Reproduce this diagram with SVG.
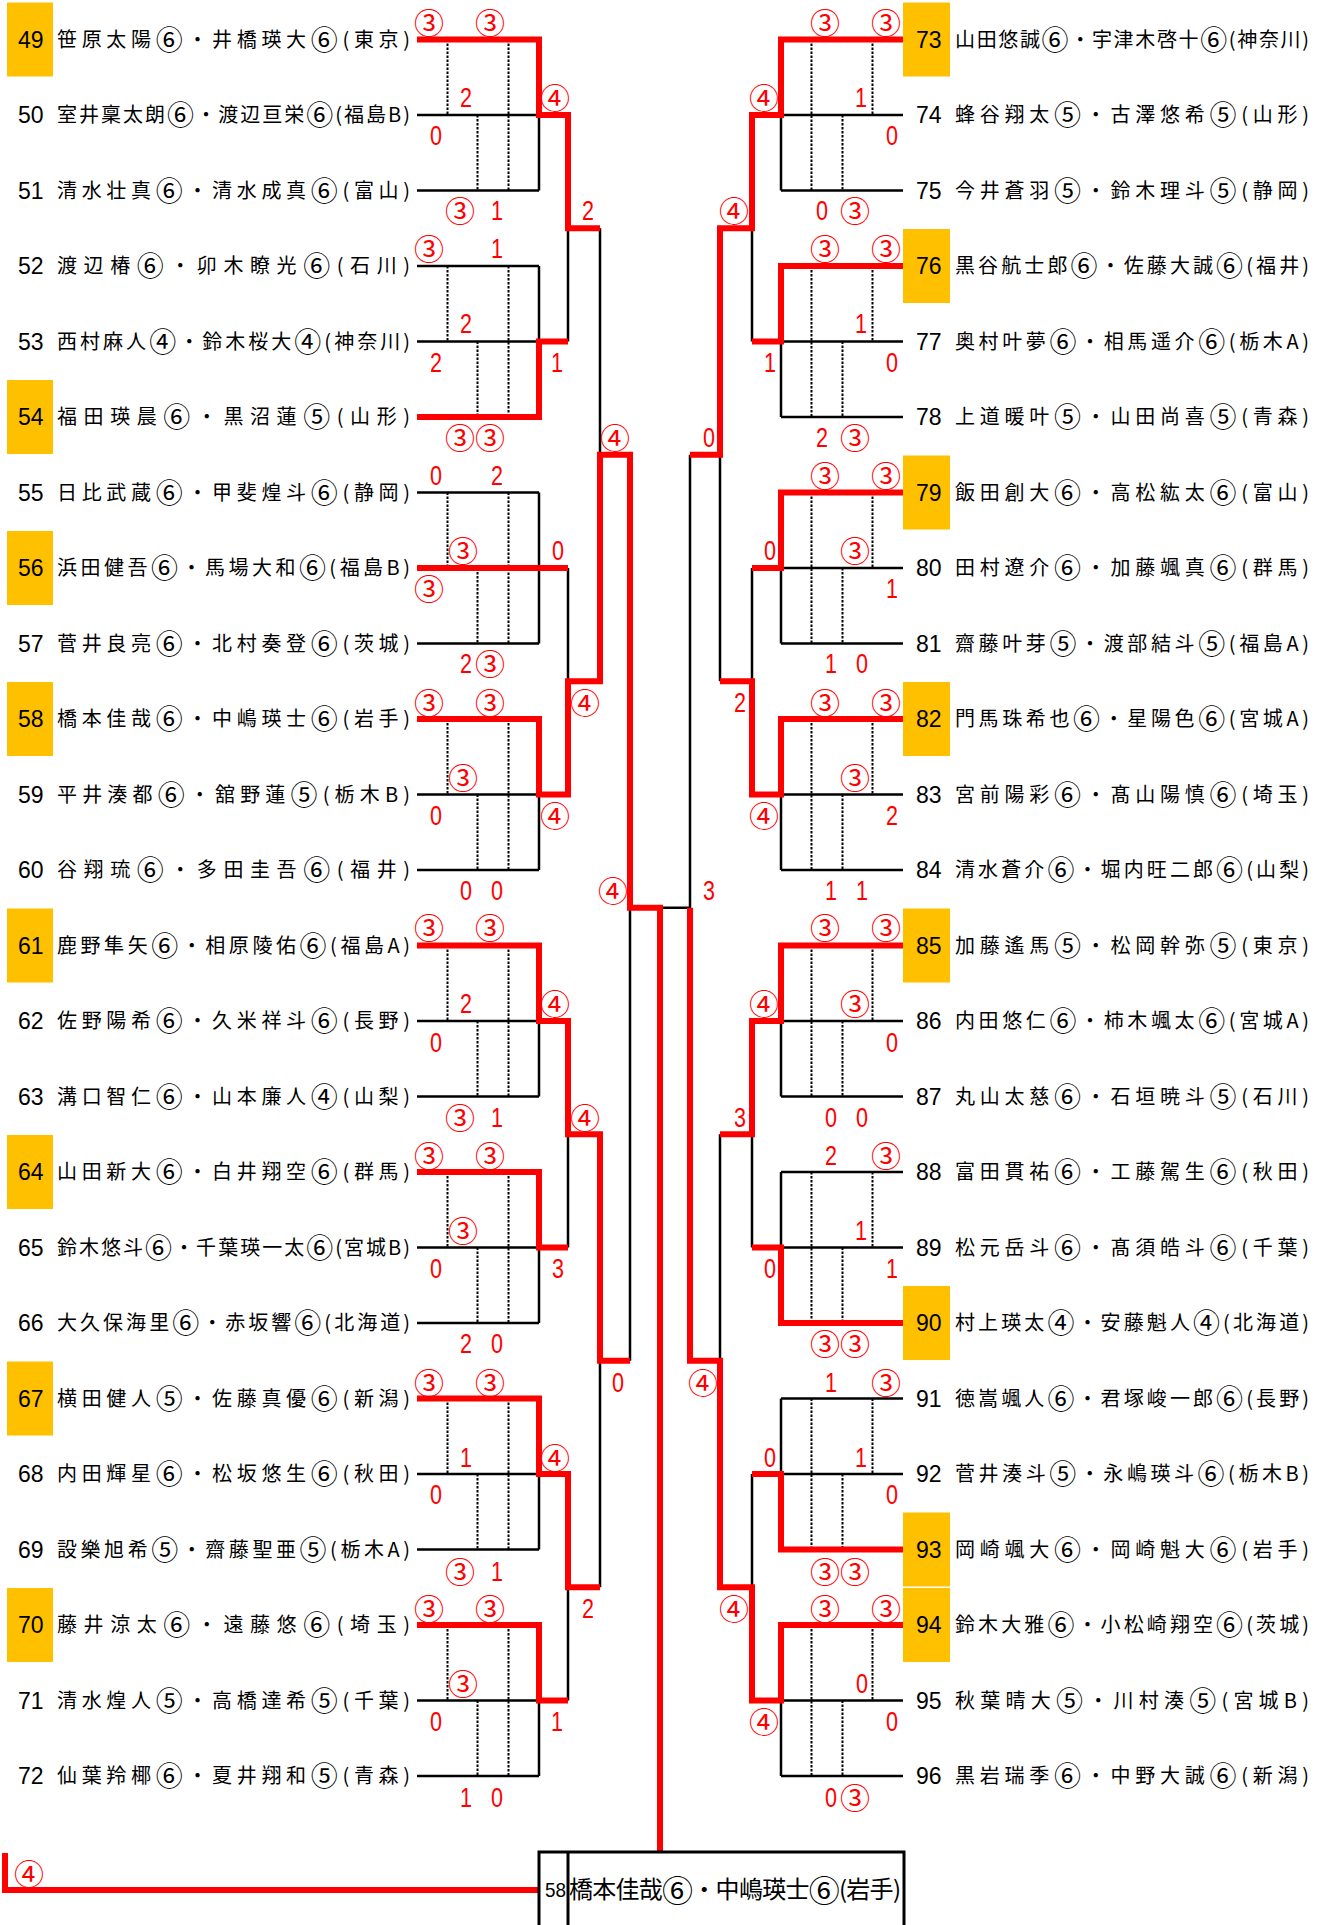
<svg xmlns="http://www.w3.org/2000/svg" width="1325" height="1925" viewBox="0 0 1325 1925">
<style>
.bk{fill:none;stroke:#000;stroke-width:2.5}
.dt{fill:none;stroke:#000;stroke-width:2;stroke-dasharray:2.5 1.5}
.rd{fill:none;stroke:#f00;stroke-width:6;stroke-linejoin:miter;stroke-linecap:butt}
.nm{font-family:'Noto Sans CJK JP',sans-serif;font-size:20px;fill:#000}
.c{font-size:27px;baseline-shift:-3px}
.no{font-family:'Liberation Sans',sans-serif;font-size:23px;fill:#000}
.sc{font-family:'Liberation Sans',sans-serif;font-size:27px;fill:#f00;text-anchor:middle}
.ci{font-family:'Noto Sans CJK JP',sans-serif;font-size:30px;fill:#f00;text-anchor:middle}
.yb{fill:#FFC000}
</style>
<rect width="1325" height="1925" fill="#fff"/>

<g id="connectors">
<path class="bk" d="M417,39.5H539M417,115H539M417,190.5H539M417,266H539M417,341.5H539M417,417H539M417,492.5H539M417,568H539M417,643.5H539M417,719H539M417,794.5H539M417,870H539M417,945.5H539M417,1021H539M417,1096.5H539M417,1172H539M417,1247.5H539M417,1323H539M417,1398.5H539M417,1474H539M417,1549.5H539M417,1625H539M417,1700.5H539M417,1776H539"/>
<path class="bk" d="M539,39.5V190.5M539,266V417M539,492.5V643.5M539,719V870M539,945.5V1096.5M539,1172V1323M539,1398.5V1549.5M539,1625V1776M568,115V341.5M568,568V794.5M568,1021V1247.5M568,1474V1700.5M600,228.25V681.25M600,1134.25V1587.25M630,454.75V1360.75M630,907.75H690"/>
<path class="bk" d="M781,39.5H903M781,115H903M781,190.5H903M781,266H903M781,341.5H903M781,417H903M781,492.5H903M781,568H903M781,643.5H903M781,719H903M781,794.5H903M781,870H903M781,945.5H903M781,1021H903M781,1096.5H903M781,1172H903M781,1247.5H903M781,1323H903M781,1398.5H903M781,1474H903M781,1549.5H903M781,1625H903M781,1700.5H903M781,1776H903"/>
<path class="bk" d="M781,39.5V190.5M781,266V417M781,492.5V643.5M781,719V870M781,945.5V1096.5M781,1172V1323M781,1398.5V1549.5M781,1625V1776M752,115V341.5M752,568V794.5M752,1021V1247.5M752,1474V1700.5M720,228.25V681.25M720,1134.25V1587.25M690,454.75V1360.75"/>
<path class="dt" d="M447.5,39.5V115M477.5,115V190.5M508.5,39.5V190.5M447.5,266V341.5M477.5,341.5V417M508.5,266V417M447.5,492.5V568M477.5,568V643.5M508.5,492.5V643.5M447.5,719V794.5M477.5,794.5V870M508.5,719V870M447.5,945.5V1021M477.5,1021V1096.5M508.5,945.5V1096.5M447.5,1172V1247.5M477.5,1247.5V1323M508.5,1172V1323M447.5,1398.5V1474M477.5,1474V1549.5M508.5,1398.5V1549.5M447.5,1625V1700.5M477.5,1700.5V1776M508.5,1625V1776"/>
<path class="dt" d="M872.5,39.5V115M842.5,115V190.5M811.5,39.5V190.5M872.5,266V341.5M842.5,341.5V417M811.5,266V417M872.5,492.5V568M842.5,568V643.5M811.5,492.5V643.5M872.5,719V794.5M842.5,794.5V870M811.5,719V870M872.5,945.5V1021M842.5,1021V1096.5M811.5,945.5V1096.5M872.5,1172V1247.5M842.5,1247.5V1323M811.5,1172V1323M872.5,1398.5V1474M842.5,1474V1549.5M811.5,1398.5V1549.5M872.5,1625V1700.5M842.5,1700.5V1776M811.5,1625V1776"/>
<path class="rd" d="M417,39.5H539V115H568V228.25H600"/>
<path class="rd" d="M417,417H539V341.5H568"/>
<path class="rd" d="M417,568H568"/>
<path class="rd" d="M417,719H539V794.5H568V681.25H600V454.75H630V907.75H660V1852"/>
<path class="rd" d="M417,945.5H539V1021H568V1134.25H600V1360.75H630"/>
<path class="rd" d="M417,1172H539V1247.5H568"/>
<path class="rd" d="M417,1398.5H539V1474H568V1587.25H600"/>
<path class="rd" d="M417,1625H539V1700.5H568"/>
<path class="rd" d="M539,1890H5V1853"/>
<path class="rd" d="M903,39.5H781V115H752V228.25H720V454.75H690"/>
<path class="rd" d="M903,266H781V341.5H752"/>
<path class="rd" d="M903,492.5H781V568H752"/>
<path class="rd" d="M903,719H781V794.5H752V681.25H720"/>
<path class="rd" d="M903,945.5H781V1021H752V1134.25H720"/>
<path class="rd" d="M903,1323H781V1247.5H752"/>
<path class="rd" d="M903,1549.5H781V1474H752"/>
<path class="rd" d="M903,1625H781V1700.5H752V1587.25H720V1360.75H690V907.75"/>
</g>

<g id="n49" transform="translate(0,39.5)"><rect class="yb" x="7" y="-37" width="46" height="74"/><text class="no" x="18" y="8">49</text><text class="nm" x="57" y="7" textLength="353" lengthAdjust="spacing">笹原太陽<tspan class="c">⑥</tspan>・井橋瑛大<tspan class="c">⑥</tspan>(東京)</text></g>
<g id="n50" transform="translate(0,115)"><text class="no" x="18" y="8">50</text><text class="nm" x="57" y="7" textLength="353" lengthAdjust="spacing">室井稟太朗<tspan class="c">⑥</tspan>・渡辺亘栄<tspan class="c">⑥</tspan>(福島B)</text></g>
<g id="n51" transform="translate(0,190.5)"><text class="no" x="18" y="8">51</text><text class="nm" x="57" y="7" textLength="353" lengthAdjust="spacing">清水壮真<tspan class="c">⑥</tspan>・清水成真<tspan class="c">⑥</tspan>(富山)</text></g>
<g id="n52" transform="translate(0,266)"><text class="no" x="18" y="8">52</text><text class="nm" x="57" y="7" textLength="353" lengthAdjust="spacing">渡辺椿<tspan class="c">⑥</tspan>・卯木瞭光<tspan class="c">⑥</tspan>(石川)</text></g>
<g id="n53" transform="translate(0,341.5)"><text class="no" x="18" y="8">53</text><text class="nm" x="57" y="7" textLength="353" lengthAdjust="spacing">西村麻人<tspan class="c">④</tspan>・鈴木桜大<tspan class="c">④</tspan>(神奈川)</text></g>
<g id="n54" transform="translate(0,417)"><rect class="yb" x="7" y="-37" width="46" height="74"/><text class="no" x="18" y="8">54</text><text class="nm" x="57" y="7" textLength="353" lengthAdjust="spacing">福田瑛晨<tspan class="c">⑥</tspan>・黒沼蓮<tspan class="c">⑤</tspan>(山形)</text></g>
<g id="n55" transform="translate(0,492.5)"><text class="no" x="18" y="8">55</text><text class="nm" x="57" y="7" textLength="353" lengthAdjust="spacing">日比武蔵<tspan class="c">⑥</tspan>・甲斐煌斗<tspan class="c">⑥</tspan>(静岡)</text></g>
<g id="n56" transform="translate(0,568)"><rect class="yb" x="7" y="-37" width="46" height="74"/><text class="no" x="18" y="8">56</text><text class="nm" x="57" y="7" textLength="353" lengthAdjust="spacing">浜田健吾<tspan class="c">⑥</tspan>・馬場大和<tspan class="c">⑥</tspan>(福島B)</text></g>
<g id="n57" transform="translate(0,643.5)"><text class="no" x="18" y="8">57</text><text class="nm" x="57" y="7" textLength="353" lengthAdjust="spacing">菅井良亮<tspan class="c">⑥</tspan>・北村奏登<tspan class="c">⑥</tspan>(茨城)</text></g>
<g id="n58" transform="translate(0,719)"><rect class="yb" x="7" y="-37" width="46" height="74"/><text class="no" x="18" y="8">58</text><text class="nm" x="57" y="7" textLength="353" lengthAdjust="spacing">橋本佳哉<tspan class="c">⑥</tspan>・中嶋瑛士<tspan class="c">⑥</tspan>(岩手)</text></g>
<g id="n59" transform="translate(0,794.5)"><text class="no" x="18" y="8">59</text><text class="nm" x="57" y="7" textLength="353" lengthAdjust="spacing">平井湊都<tspan class="c">⑥</tspan>・舘野蓮<tspan class="c">⑤</tspan>(栃木B)</text></g>
<g id="n60" transform="translate(0,870)"><text class="no" x="18" y="8">60</text><text class="nm" x="57" y="7" textLength="353" lengthAdjust="spacing">谷翔琉<tspan class="c">⑥</tspan>・多田圭吾<tspan class="c">⑥</tspan>(福井)</text></g>
<g id="n61" transform="translate(0,945.5)"><rect class="yb" x="7" y="-37" width="46" height="74"/><text class="no" x="18" y="8">61</text><text class="nm" x="57" y="7" textLength="353" lengthAdjust="spacing">鹿野隼矢<tspan class="c">⑥</tspan>・相原陵佑<tspan class="c">⑥</tspan>(福島A)</text></g>
<g id="n62" transform="translate(0,1021)"><text class="no" x="18" y="8">62</text><text class="nm" x="57" y="7" textLength="353" lengthAdjust="spacing">佐野陽希<tspan class="c">⑥</tspan>・久米祥斗<tspan class="c">⑥</tspan>(長野)</text></g>
<g id="n63" transform="translate(0,1096.5)"><text class="no" x="18" y="8">63</text><text class="nm" x="57" y="7" textLength="353" lengthAdjust="spacing">溝口智仁<tspan class="c">⑥</tspan>・山本廉人<tspan class="c">④</tspan>(山梨)</text></g>
<g id="n64" transform="translate(0,1172)"><rect class="yb" x="7" y="-37" width="46" height="74"/><text class="no" x="18" y="8">64</text><text class="nm" x="57" y="7" textLength="353" lengthAdjust="spacing">山田新大<tspan class="c">⑥</tspan>・白井翔空<tspan class="c">⑥</tspan>(群馬)</text></g>
<g id="n65" transform="translate(0,1247.5)"><text class="no" x="18" y="8">65</text><text class="nm" x="57" y="7" textLength="353" lengthAdjust="spacing">鈴木悠斗<tspan class="c">⑥</tspan>・千葉瑛一太<tspan class="c">⑥</tspan>(宮城B)</text></g>
<g id="n66" transform="translate(0,1323)"><text class="no" x="18" y="8">66</text><text class="nm" x="57" y="7" textLength="353" lengthAdjust="spacing">大久保海里<tspan class="c">⑥</tspan>・赤坂響<tspan class="c">⑥</tspan>(北海道)</text></g>
<g id="n67" transform="translate(0,1398.5)"><rect class="yb" x="7" y="-37" width="46" height="74"/><text class="no" x="18" y="8">67</text><text class="nm" x="57" y="7" textLength="353" lengthAdjust="spacing">横田健人<tspan class="c">⑤</tspan>・佐藤真優<tspan class="c">⑥</tspan>(新潟)</text></g>
<g id="n68" transform="translate(0,1474)"><text class="no" x="18" y="8">68</text><text class="nm" x="57" y="7" textLength="353" lengthAdjust="spacing">内田輝星<tspan class="c">⑥</tspan>・松坂悠生<tspan class="c">⑥</tspan>(秋田)</text></g>
<g id="n69" transform="translate(0,1549.5)"><text class="no" x="18" y="8">69</text><text class="nm" x="57" y="7" textLength="353" lengthAdjust="spacing">設樂旭希<tspan class="c">⑤</tspan>・齋藤聖亜<tspan class="c">⑤</tspan>(栃木A)</text></g>
<g id="n70" transform="translate(0,1625)"><rect class="yb" x="7" y="-37" width="46" height="74"/><text class="no" x="18" y="8">70</text><text class="nm" x="57" y="7" textLength="353" lengthAdjust="spacing">藤井涼太<tspan class="c">⑥</tspan>・遠藤悠<tspan class="c">⑥</tspan>(埼玉)</text></g>
<g id="n71" transform="translate(0,1700.5)"><text class="no" x="18" y="8">71</text><text class="nm" x="57" y="7" textLength="353" lengthAdjust="spacing">清水煌人<tspan class="c">⑤</tspan>・高橋達希<tspan class="c">⑤</tspan>(千葉)</text></g>
<g id="n72" transform="translate(0,1776)"><text class="no" x="18" y="8">72</text><text class="nm" x="57" y="7" textLength="353" lengthAdjust="spacing">仙葉羚椰<tspan class="c">⑥</tspan>・夏井翔和<tspan class="c">⑤</tspan>(青森)</text></g>

<g id="n73" transform="translate(0,39.5)"><rect class="yb" x="903" y="-37" width="47" height="74"/><text class="no" x="916" y="8">73</text><text class="nm" x="955" y="7" textLength="354" lengthAdjust="spacing">山田悠誠<tspan class="c">⑥</tspan>・宇津木啓十<tspan class="c">⑥</tspan>(神奈川)</text></g>
<g id="n74" transform="translate(0,115)"><text class="no" x="916" y="8">74</text><text class="nm" x="955" y="7" textLength="354" lengthAdjust="spacing">蜂谷翔太<tspan class="c">⑤</tspan>・古澤悠希<tspan class="c">⑤</tspan>(山形)</text></g>
<g id="n75" transform="translate(0,190.5)"><text class="no" x="916" y="8">75</text><text class="nm" x="955" y="7" textLength="354" lengthAdjust="spacing">今井蒼羽<tspan class="c">⑤</tspan>・鈴木理斗<tspan class="c">⑤</tspan>(静岡)</text></g>
<g id="n76" transform="translate(0,266)"><rect class="yb" x="903" y="-37" width="47" height="74"/><text class="no" x="916" y="8">76</text><text class="nm" x="955" y="7" textLength="354" lengthAdjust="spacing">黒谷航士郎<tspan class="c">⑥</tspan>・佐藤大誠<tspan class="c">⑥</tspan>(福井)</text></g>
<g id="n77" transform="translate(0,341.5)"><text class="no" x="916" y="8">77</text><text class="nm" x="955" y="7" textLength="354" lengthAdjust="spacing">奥村叶夢<tspan class="c">⑥</tspan>・相馬遥介<tspan class="c">⑥</tspan>(栃木A)</text></g>
<g id="n78" transform="translate(0,417)"><text class="no" x="916" y="8">78</text><text class="nm" x="955" y="7" textLength="354" lengthAdjust="spacing">上道暖叶<tspan class="c">⑤</tspan>・山田尚喜<tspan class="c">⑤</tspan>(青森)</text></g>
<g id="n79" transform="translate(0,492.5)"><rect class="yb" x="903" y="-37" width="47" height="74"/><text class="no" x="916" y="8">79</text><text class="nm" x="955" y="7" textLength="354" lengthAdjust="spacing">飯田創大<tspan class="c">⑥</tspan>・高松紘太<tspan class="c">⑥</tspan>(富山)</text></g>
<g id="n80" transform="translate(0,568)"><text class="no" x="916" y="8">80</text><text class="nm" x="955" y="7" textLength="354" lengthAdjust="spacing">田村遼介<tspan class="c">⑥</tspan>・加藤颯真<tspan class="c">⑥</tspan>(群馬)</text></g>
<g id="n81" transform="translate(0,643.5)"><text class="no" x="916" y="8">81</text><text class="nm" x="955" y="7" textLength="354" lengthAdjust="spacing">齋藤叶芽<tspan class="c">⑤</tspan>・渡部結斗<tspan class="c">⑤</tspan>(福島A)</text></g>
<g id="n82" transform="translate(0,719)"><rect class="yb" x="903" y="-37" width="47" height="74"/><text class="no" x="916" y="8">82</text><text class="nm" x="955" y="7" textLength="354" lengthAdjust="spacing">門馬珠希也<tspan class="c">⑥</tspan>・星陽色<tspan class="c">⑥</tspan>(宮城A)</text></g>
<g id="n83" transform="translate(0,794.5)"><text class="no" x="916" y="8">83</text><text class="nm" x="955" y="7" textLength="354" lengthAdjust="spacing">宮前陽彩<tspan class="c">⑥</tspan>・髙山陽慎<tspan class="c">⑥</tspan>(埼玉)</text></g>
<g id="n84" transform="translate(0,870)"><text class="no" x="916" y="8">84</text><text class="nm" x="955" y="7" textLength="354" lengthAdjust="spacing">清水蒼介<tspan class="c">⑥</tspan>・堀内旺二郎<tspan class="c">⑥</tspan>(山梨)</text></g>
<g id="n85" transform="translate(0,945.5)"><rect class="yb" x="903" y="-37" width="47" height="74"/><text class="no" x="916" y="8">85</text><text class="nm" x="955" y="7" textLength="354" lengthAdjust="spacing">加藤遙馬<tspan class="c">⑤</tspan>・松岡幹弥<tspan class="c">⑤</tspan>(東京)</text></g>
<g id="n86" transform="translate(0,1021)"><text class="no" x="916" y="8">86</text><text class="nm" x="955" y="7" textLength="354" lengthAdjust="spacing">内田悠仁<tspan class="c">⑥</tspan>・柿木颯太<tspan class="c">⑥</tspan>(宮城A)</text></g>
<g id="n87" transform="translate(0,1096.5)"><text class="no" x="916" y="8">87</text><text class="nm" x="955" y="7" textLength="354" lengthAdjust="spacing">丸山太慈<tspan class="c">⑥</tspan>・石垣暁斗<tspan class="c">⑤</tspan>(石川)</text></g>
<g id="n88" transform="translate(0,1172)"><text class="no" x="916" y="8">88</text><text class="nm" x="955" y="7" textLength="354" lengthAdjust="spacing">富田貫祐<tspan class="c">⑥</tspan>・工藤駕生<tspan class="c">⑥</tspan>(秋田)</text></g>
<g id="n89" transform="translate(0,1247.5)"><text class="no" x="916" y="8">89</text><text class="nm" x="955" y="7" textLength="354" lengthAdjust="spacing">松元岳斗<tspan class="c">⑥</tspan>・髙須皓斗<tspan class="c">⑥</tspan>(千葉)</text></g>
<g id="n90" transform="translate(0,1323)"><rect class="yb" x="903" y="-37" width="47" height="74"/><text class="no" x="916" y="8">90</text><text class="nm" x="955" y="7" textLength="354" lengthAdjust="spacing">村上瑛太<tspan class="c">④</tspan>・安藤魁人<tspan class="c">④</tspan>(北海道)</text></g>
<g id="n91" transform="translate(0,1398.5)"><text class="no" x="916" y="8">91</text><text class="nm" x="955" y="7" textLength="354" lengthAdjust="spacing">徳嵩颯人<tspan class="c">⑥</tspan>・君塚峻一郎<tspan class="c">⑥</tspan>(長野)</text></g>
<g id="n92" transform="translate(0,1474)"><text class="no" x="916" y="8">92</text><text class="nm" x="955" y="7" textLength="354" lengthAdjust="spacing">菅井湊斗<tspan class="c">⑤</tspan>・永嶋瑛斗<tspan class="c">⑥</tspan>(栃木B)</text></g>
<g id="n93" transform="translate(0,1549.5)"><rect class="yb" x="903" y="-37" width="47" height="74"/><text class="no" x="916" y="8">93</text><text class="nm" x="955" y="7" textLength="354" lengthAdjust="spacing">岡崎颯大<tspan class="c">⑥</tspan>・岡崎魁大<tspan class="c">⑥</tspan>(岩手)</text></g>
<g id="n94" transform="translate(0,1625)"><rect class="yb" x="903" y="-37" width="47" height="74"/><text class="no" x="916" y="8">94</text><text class="nm" x="955" y="7" textLength="354" lengthAdjust="spacing">鈴木大雅<tspan class="c">⑥</tspan>・小松崎翔空<tspan class="c">⑥</tspan>(茨城)</text></g>
<g id="n95" transform="translate(0,1700.5)"><text class="no" x="916" y="8">95</text><text class="nm" x="955" y="7" textLength="354" lengthAdjust="spacing">秋葉晴大<tspan class="c">⑤</tspan>・川村湊<tspan class="c">⑤</tspan>(宮城B)</text></g>
<g id="n96" transform="translate(0,1776)"><text class="no" x="916" y="8">96</text><text class="nm" x="955" y="7" textLength="354" lengthAdjust="spacing">黒岩瑞季<tspan class="c">⑥</tspan>・中野大誠<tspan class="c">⑥</tspan>(新潟)</text></g>

<g id="winner">
<rect x="539" y="1852" width="365" height="100" fill="#fff" stroke="#000" stroke-width="3"/>
<path d="M568,1852V1925" stroke="#000" stroke-width="3"/>
<text x="545" y="1897" font-family="'Liberation Sans',sans-serif" font-size="21" textLength="21" lengthAdjust="spacingAndGlyphs">58</text>
<text x="569" y="1898" font-family="'Noto Sans CJK JP',sans-serif" font-size="24" textLength="332" lengthAdjust="spacing">橋本佳哉<tspan font-size="31" style="baseline-shift:-3.5px">⑥</tspan>・中嶋瑛士<tspan font-size="31" style="baseline-shift:-3.5px">⑥</tspan>(岩手)</text>
</g>

<g id="scores">
<text class="ci" x="429" y="34">③</text><text class="ci" x="490" y="34">③</text><text class="sc" x="466" y="107" textLength="12" lengthAdjust="spacingAndGlyphs">2</text><text class="sc" x="436" y="145" textLength="12" lengthAdjust="spacingAndGlyphs">0</text><text class="ci" x="460" y="222">③</text><text class="sc" x="497" y="220" textLength="12" lengthAdjust="spacingAndGlyphs">1</text>
<text class="ci" x="429" y="260">③</text><text class="sc" x="497" y="258" textLength="12" lengthAdjust="spacingAndGlyphs">1</text><text class="sc" x="466" y="333" textLength="12" lengthAdjust="spacingAndGlyphs">2</text><text class="sc" x="436" y="372" textLength="12" lengthAdjust="spacingAndGlyphs">2</text><text class="ci" x="460" y="449">③</text><text class="ci" x="490" y="449">③</text>
<text class="sc" x="436" y="485" textLength="12" lengthAdjust="spacingAndGlyphs">0</text><text class="sc" x="497" y="485" textLength="12" lengthAdjust="spacingAndGlyphs">2</text><text class="ci" x="463" y="562">③</text><text class="ci" x="429" y="600">③</text><text class="sc" x="466" y="673" textLength="12" lengthAdjust="spacingAndGlyphs">2</text><text class="ci" x="490" y="675">③</text>
<text class="ci" x="429" y="714">③</text><text class="ci" x="490" y="714">③</text><text class="ci" x="463" y="789">③</text><text class="sc" x="436" y="825" textLength="12" lengthAdjust="spacingAndGlyphs">0</text><text class="sc" x="466" y="900" textLength="12" lengthAdjust="spacingAndGlyphs">0</text><text class="sc" x="497" y="900" textLength="12" lengthAdjust="spacingAndGlyphs">0</text>
<text class="ci" x="429" y="939">③</text><text class="ci" x="490" y="939">③</text><text class="sc" x="466" y="1013" textLength="12" lengthAdjust="spacingAndGlyphs">2</text><text class="sc" x="436" y="1052" textLength="12" lengthAdjust="spacingAndGlyphs">0</text><text class="ci" x="460" y="1129">③</text><text class="sc" x="497" y="1127" textLength="12" lengthAdjust="spacingAndGlyphs">1</text>
<text class="ci" x="429" y="1167">③</text><text class="ci" x="490" y="1167">③</text><text class="ci" x="463" y="1242">③</text><text class="sc" x="436" y="1278" textLength="12" lengthAdjust="spacingAndGlyphs">0</text><text class="sc" x="466" y="1353" textLength="12" lengthAdjust="spacingAndGlyphs">2</text><text class="sc" x="497" y="1353" textLength="12" lengthAdjust="spacingAndGlyphs">0</text>
<text class="ci" x="429" y="1394">③</text><text class="ci" x="490" y="1394">③</text><text class="sc" x="466" y="1467" textLength="12" lengthAdjust="spacingAndGlyphs">1</text><text class="sc" x="436" y="1504" textLength="12" lengthAdjust="spacingAndGlyphs">0</text><text class="ci" x="460" y="1583">③</text><text class="sc" x="497" y="1581" textLength="12" lengthAdjust="spacingAndGlyphs">1</text>
<text class="ci" x="429" y="1620">③</text><text class="ci" x="490" y="1620">③</text><text class="ci" x="463" y="1695">③</text><text class="sc" x="436" y="1731" textLength="12" lengthAdjust="spacingAndGlyphs">0</text><text class="sc" x="466" y="1807" textLength="12" lengthAdjust="spacingAndGlyphs">1</text><text class="sc" x="497" y="1807" textLength="12" lengthAdjust="spacingAndGlyphs">0</text>
<text class="ci" x="555" y="109">④</text><text class="sc" x="557" y="372" textLength="12" lengthAdjust="spacingAndGlyphs">1</text><text class="sc" x="558" y="560" textLength="12" lengthAdjust="spacingAndGlyphs">0</text><text class="ci" x="555" y="827">④</text><text class="ci" x="555" y="1015">④</text><text class="sc" x="558" y="1278" textLength="12" lengthAdjust="spacingAndGlyphs">3</text><text class="ci" x="555" y="1469">④</text><text class="sc" x="557" y="1731" textLength="12" lengthAdjust="spacingAndGlyphs">1</text>
<text class="sc" x="588" y="220" textLength="12" lengthAdjust="spacingAndGlyphs">2</text><text class="ci" x="585" y="714">④</text><text class="ci" x="585" y="1129">④</text><text class="sc" x="588" y="1618" textLength="12" lengthAdjust="spacingAndGlyphs">2</text>
<text class="ci" x="615" y="449">④</text><text class="sc" x="618" y="1392" textLength="12" lengthAdjust="spacingAndGlyphs">0</text>
<text class="ci" x="613" y="902">④</text><text class="sc" x="709" y="900" textLength="12" lengthAdjust="spacingAndGlyphs">3</text>
<text class="ci" x="29" y="1885">④</text>
<text class="ci" x="825" y="34">③</text><text class="ci" x="886" y="34">③</text><text class="sc" x="861" y="107" textLength="12" lengthAdjust="spacingAndGlyphs">1</text><text class="sc" x="892" y="145" textLength="12" lengthAdjust="spacingAndGlyphs">0</text><text class="sc" x="822" y="220" textLength="12" lengthAdjust="spacingAndGlyphs">0</text><text class="ci" x="855" y="222">③</text>
<text class="ci" x="825" y="260">③</text><text class="ci" x="886" y="260">③</text><text class="sc" x="861" y="333" textLength="12" lengthAdjust="spacingAndGlyphs">1</text><text class="sc" x="892" y="372" textLength="12" lengthAdjust="spacingAndGlyphs">0</text><text class="sc" x="822" y="447" textLength="12" lengthAdjust="spacingAndGlyphs">2</text><text class="ci" x="855" y="449">③</text>
<text class="ci" x="825" y="487">③</text><text class="ci" x="886" y="487">③</text><text class="ci" x="855" y="562">③</text><text class="sc" x="892" y="598" textLength="12" lengthAdjust="spacingAndGlyphs">1</text><text class="sc" x="831" y="673" textLength="12" lengthAdjust="spacingAndGlyphs">1</text><text class="sc" x="862" y="673" textLength="12" lengthAdjust="spacingAndGlyphs">0</text>
<text class="ci" x="825" y="714">③</text><text class="ci" x="886" y="714">③</text><text class="ci" x="855" y="789">③</text><text class="sc" x="892" y="825" textLength="12" lengthAdjust="spacingAndGlyphs">2</text><text class="sc" x="831" y="900" textLength="12" lengthAdjust="spacingAndGlyphs">1</text><text class="sc" x="862" y="900" textLength="12" lengthAdjust="spacingAndGlyphs">1</text>
<text class="ci" x="825" y="939">③</text><text class="ci" x="886" y="939">③</text><text class="ci" x="855" y="1015">③</text><text class="sc" x="892" y="1052" textLength="12" lengthAdjust="spacingAndGlyphs">0</text><text class="sc" x="831" y="1127" textLength="12" lengthAdjust="spacingAndGlyphs">0</text><text class="sc" x="862" y="1127" textLength="12" lengthAdjust="spacingAndGlyphs">0</text>
<text class="sc" x="831" y="1165" textLength="12" lengthAdjust="spacingAndGlyphs">2</text><text class="ci" x="886" y="1167">③</text><text class="sc" x="861" y="1240" textLength="12" lengthAdjust="spacingAndGlyphs">1</text><text class="sc" x="892" y="1278" textLength="12" lengthAdjust="spacingAndGlyphs">1</text><text class="ci" x="825" y="1355">③</text><text class="ci" x="855" y="1355">③</text>
<text class="sc" x="831" y="1392" textLength="12" lengthAdjust="spacingAndGlyphs">1</text><text class="ci" x="886" y="1394">③</text><text class="sc" x="861" y="1467" textLength="12" lengthAdjust="spacingAndGlyphs">1</text><text class="sc" x="892" y="1504" textLength="12" lengthAdjust="spacingAndGlyphs">0</text><text class="ci" x="825" y="1583">③</text><text class="ci" x="855" y="1583">③</text>
<text class="ci" x="825" y="1620">③</text><text class="ci" x="886" y="1620">③</text><text class="sc" x="862" y="1693" textLength="12" lengthAdjust="spacingAndGlyphs">0</text><text class="sc" x="892" y="1731" textLength="12" lengthAdjust="spacingAndGlyphs">0</text><text class="sc" x="831" y="1807" textLength="12" lengthAdjust="spacingAndGlyphs">0</text><text class="ci" x="855" y="1809">③</text>
<text class="ci" x="764" y="109">④</text><text class="sc" x="770" y="372" textLength="12" lengthAdjust="spacingAndGlyphs">1</text><text class="sc" x="770" y="560" textLength="12" lengthAdjust="spacingAndGlyphs">0</text><text class="ci" x="764" y="827">④</text><text class="ci" x="764" y="1015">④</text><text class="sc" x="770" y="1278" textLength="12" lengthAdjust="spacingAndGlyphs">0</text><text class="sc" x="770" y="1467" textLength="12" lengthAdjust="spacingAndGlyphs">0</text><text class="ci" x="764" y="1733">④</text>
<text class="ci" x="734" y="222">④</text><text class="sc" x="740" y="712" textLength="12" lengthAdjust="spacingAndGlyphs">2</text><text class="sc" x="740" y="1127" textLength="12" lengthAdjust="spacingAndGlyphs">3</text><text class="ci" x="734" y="1620">④</text>
<text class="sc" x="709" y="447" textLength="12" lengthAdjust="spacingAndGlyphs">0</text><text class="ci" x="703" y="1394">④</text>
</g>
</svg>
